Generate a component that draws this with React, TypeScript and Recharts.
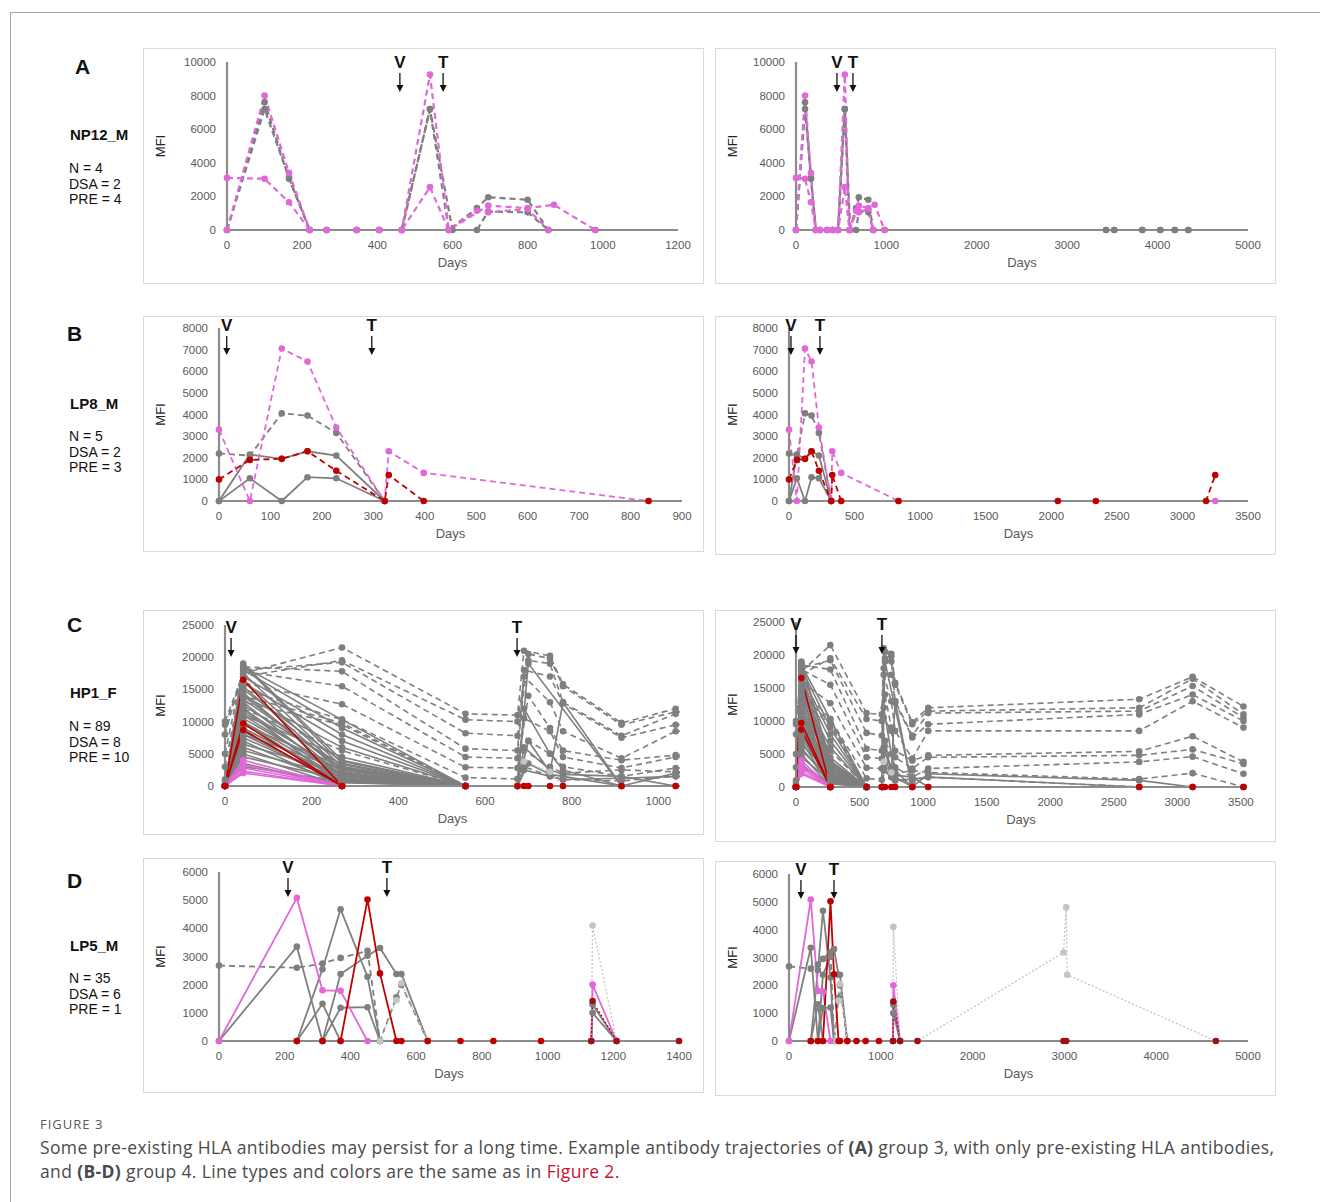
import React from 'react';
import { LineChart, Line, XAxis, YAxis, ReferenceDot } from 'recharts';

const FONT = '"Liberation Sans", Arial, sans-serif';
const GRAY = '#7f7f7f';
const PINK = '#e068d8';
const RED = '#c00000';
const LIGHT = '#c4c4c4';
const AXIS = '#8c8c8c';
const TICK_FILL = '#595959';

type V = number | null;
type Kind = 'gray' | 'grayPre' | 'pink' | 'pinkPre' | 'red' | 'redPre' | 'redDot' | 'light';

// ---- NP12_M (A) ----
const npDays = [0, 100, 165, 220, 265, 345, 405, 465, 540, 590, 600, 665, 695, 800, 855, 870, 980, 3430, 3520, 3830, 4030, 4190, 4340];
const npGray1: V[] = [0, 7600, 3050, 0, 0, 0, 0, 0, 7200, 0, null, 1300, 1950, 1800, 0, null, 0, 0, 0, 0, 0, 0, 0];
const npGray2: V[] = [0, 7200, 3100, 0, 0, 0, 0, 0, 7200, null, 0, 0, 1100, 1050, 0, null, null, 0, 0, 0, 0, 0, 0];
const npPink1: V[] = [0, 8000, 3400, 0, 0, 0, 0, 0, 9250, 0, null, 1150, 1050, 1250, 0];
const npPink2: V[] = [3100, 3050, 1650, 0, 0, 0, 0, 0, 2550, 0, null, null, 1450, 1300, null, 1500, 0];

// ---- LP8_M (B) ----
const lp8Days = [0, 60, 122, 172, 228, 322, 330, 398, 835, 2050, 2340, 3180, 3250];
const lp8GrayPre: V[] = [2200, 2100, 4050, 3950, 3150, 0];
const lp8Gray1: V[] = [0, 2150, 1950, 2300, 2100, 0];
const lp8Gray2: V[] = [0, 1050, 0, 1100, 1050, 0];
const lp8Pink: V[] = [3300, 0, 7050, 6450, 3400, 0, 2300, 1300, 0, null, null, null, 0];
const lp8Red: V[] = [1000, 1900, 1950, 2300, 1400, 0, 1200, 0, 0, 0, 0, 0, 1200];

// ---- HP1_F (C) ----
const hpDays = [0, 42, 270, 555, 675, 690, 700, 750, 780, 915, 1040, 2700, 3120, 3520];
const hpPre1: V[] = [10000, 17500, 21500, 11200, 11000, 21000, null, 20200, 15800, 9800, 12000, 13300, 16700, 12200];
const hpPre2: V[] = [9500, 17000, 19500, 10300, 10000, null, 20500, 19800, 15500, 9500, 11500, 12000, 16400, 11000];
const hpPre3: V[] = [8000, 18000, 19200, 8200, 7800, null, 19500, 19000, 13000, 7800, 11200, 11500, 15300, 10500];
const hpPre4: V[] = [5000, 18500, 17800, 5800, 5500, 18000, null, 17000, 12800, 7500, 9500, 11000, 14000, 10000];
const hpPre5: V[] = [3000, 17800, 15500, 4500, 4300, 17000, null, 13000, 8500, 4300, 8500, 8500, 13000, 9000];
const hpPre6: V[] = [1000, 16000, 12700, 2900, 2800, null, 14000, 9000, 5500, 4000, 4800, 5400, 7700, 3800];
const hpPre7: V[] = [500, 15000, 10300, 1300, 1100, 10500, null, 8500, 4500, 2800, 4500, 4800, 5700, 3500];
const hpPre8: V[] = [0, 14000, 9800, 0, 0, null, 7000, 5000, 3000, 1500, 2800, 3800, 4600, 2000];
const hpPre9: V[] = [0, 13000, 9500, 0, 0, 5500, null, 3000, 2000, 2500, 2200, 1200, 2100, 0];
const hpPre10: V[] = [0, 12000, 5500, 0, 0, 3000, null, 1500, 1000, 800, 1500, 0, 0, 0];
const hpSolid: V[][] = [
  [0, 19000, 4000, 0],
  [0, 18800, 3500, 0],
  [0, 18500, 10300, 0],
  [0, 18000, 9000, 0],
  [0, 17500, 3000, 0],
  [0, 17000, 8000, 0],
  [0, 16500, 2500, 0],
  [0, 16000, 7000, 0],
  [0, 15500, 2000, 0],
  [0, 15000, 3800, 0],
  [0, 14500, 1500, 0],
  [0, 14000, 6000, 0],
  [0, 13500, 2800, 0],
  [0, 13000, 1000, 0],
  [0, 12500, 3300, 0],
  [0, 12000, 0],
  [0, 11500, 2200, 0],
  [0, 11000, 4500, 0],
  [0, 10500, 1800, 0],
  [0, 10000, 0],
  [0, 9500, 3000, 0],
  [0, 9000, 1200, 0],
  [0, 8500, 0],
  [0, 8000, 2600, 0],
  [0, 7500, 800, 0],
  [0, 7000, 0],
  [0, 6500, 2000, 0],
  [0, 6000, 500, 0],
  [0, 5500, 1500, 0],
  [0, 5000, 0],
  [0, 4500, 1000, 0],
  [0, 3500, 0],
  [0, 3000, 700, 0],
  [0, 14000, 2500, 0, 0, null, 19000, null, null, 0],
  [0, 12000, 1800, 0, 0, 12000, null, 5000, 2500, 0],
  [0, 11000, 1500, 0, 0, null, 7000, 2200, 13000, 0],
  [0, 10000, 1200, 0, 0, 6000, null, 2500, 1800, 1500, 0],
  [0, 9000, 900, 0, 0, null, 3500, 1800, 1500, 0, 2000, 1000, 0],
  [0, 8000, 600, 0, 0, 2500, null, 1500, 1000, 1200, 1500, 0],
];
const hpLight: V[] = [null, null, null, null, 0, 3800, null, 2200, 0];
const hpPink: V[][] = [
  [0, 4000, 0],
  [0, 3300, 0],
  [0, 2800, 0],
  [0, 2300, 0],
  [0, 2000, 0],
];
const hpRed1: V[] = [0, 16500, 0, 0, 0, 0, 0, 0, 0, 0, 0, 0, 0, 0];
const hpRed2: V[] = [0, 9700, 0];
const hpRed3: V[] = [0, 8700, 0];

// ---- LP5_M (D) ----
const lp5Days = [0, 237, 315, 370, 452, 490, 540, 555, 635, 735, 835, 980, 1133, 1137, 1210, 1400, 2990, 3020, 3030, 4650];
const lp5GrayPre: V[] = [2680, 2600, 2750, 2950, 3200, 0, 1550, 2000, 0];
const lp5Gray1: V[] = [0, 3350, 0];
const lp5Gray2: V[] = [null, 0, 2550, 4680, 2280, 0];
const lp5Gray3: V[] = [null, 0, 1320, 0];
const lp5Gray4: V[] = [null, null, 0, 2380, 3030, 3300, 2380, 2380, 0];
const lp5Gray5: V[] = [null, null, 0, 1180, 1200, 0];
const lp5Gray6: V[] = [null, null, null, null, null, null, null, null, null, null, null, null, 0, 1300, 0];
const lp5Gray7: V[] = [null, null, null, null, null, null, null, null, null, null, null, null, 0, 1000, 0];
const lp5Light1: V[] = [null, null, null, null, null, 0, 1450, 2050, 0];
const lp5Light2: V[] = [null, null, null, null, null, null, null, null, null, null, null, null, 0, 4100, 0, 0, 3180, 4800, 2380, 0];
const lp5Pink: V[] = [0, 5080, 1800, 1780, 0, null, null, null, null, null, null, null, 0, 2000, 0];
const lp5Red: V[] = [null, 0, 0, 0, 5020, 2400, 0, 0, 0, 0, 0, 0];
const lp5RedDot: V[] = [null, null, null, null, null, null, null, null, null, null, null, null, 0, 1420, 0, 0, 0, 0, null, 0];

// ---- axis ticks ----
const ticksA = [0, 2000, 4000, 6000, 8000, 10000];
const ticksB = [0, 1000, 2000, 3000, 4000, 5000, 6000, 7000, 8000];
const ticksC = [0, 5000, 10000, 15000, 20000, 25000];
const ticksD = [0, 1000, 2000, 3000, 4000, 5000, 6000];
const days1200 = [0, 200, 400, 600, 800, 1000, 1200];
const days900 = [0, 100, 200, 300, 400, 500, 600, 700, 800, 900];
const days1000 = [0, 200, 400, 600, 800, 1000];
const days1400 = [0, 200, 400, 600, 800, 1000, 1200, 1400];
const days3500 = [0, 500, 1000, 1500, 2000, 2500, 3000, 3500];
const days5000 = [0, 1000, 2000, 3000, 4000, 5000];

const STYLE: Record<Kind, { color: string; dash?: string }> = {
  gray: { color: GRAY },
  grayPre: { color: GRAY, dash: '6 4' },
  pink: { color: PINK },
  pinkPre: { color: PINK, dash: '6 4' },
  red: { color: RED },
  redPre: { color: RED, dash: '6 4' },
  redDot: { color: '#a01010', dash: '2 2' },
  light: { color: LIGHT, dash: '2 2' },
};

type S = { kind: Kind; values: V[] };

const npSeries: S[] = [
  { kind: 'grayPre', values: npGray1 },
  { kind: 'grayPre', values: npGray2 },
  { kind: 'pinkPre', values: npPink2 },
  { kind: 'pinkPre', values: npPink1 },
];
const lp8Series: S[] = [
  { kind: 'grayPre', values: lp8GrayPre },
  { kind: 'gray', values: lp8Gray1 },
  { kind: 'gray', values: lp8Gray2 },
  { kind: 'pinkPre', values: lp8Pink },
  { kind: 'redPre', values: lp8Red },
];
const hpSeries: S[] = [
  ...hpSolid.map((v) => ({ kind: 'gray' as Kind, values: v })),
  ...[hpPre1, hpPre2, hpPre3, hpPre4, hpPre5, hpPre6, hpPre7, hpPre8, hpPre9, hpPre10].map((v) => ({ kind: 'grayPre' as Kind, values: v })),
  { kind: 'light', values: hpLight },
  ...hpPink.map((v) => ({ kind: 'pink' as Kind, values: v })),
  { kind: 'red', values: hpRed3 },
  { kind: 'red', values: hpRed2 },
  { kind: 'red', values: hpRed1 },
];
const lp5Series: S[] = [
  { kind: 'grayPre', values: lp5GrayPre },
  { kind: 'gray', values: lp5Gray1 },
  { kind: 'gray', values: lp5Gray2 },
  { kind: 'gray', values: lp5Gray3 },
  { kind: 'gray', values: lp5Gray4 },
  { kind: 'gray', values: lp5Gray5 },
  { kind: 'gray', values: lp5Gray6 },
  { kind: 'gray', values: lp5Gray7 },
  { kind: 'light', values: lp5Light1 },
  { kind: 'light', values: lp5Light2 },
  { kind: 'pink', values: lp5Pink },
  { kind: 'red', values: lp5Red },
  { kind: 'redDot', values: lp5RedDot },
];

type PanelDef = {
  box: [number, number, number, number];
  plot: [number, number, number, number];
  xMax: number;
  xTicks: number[];
  yMax: number;
  yTicks: number[];
  days: number[];
  series: S[];
  marks: [string, number][];
  markDy: number;
  lw: number;
};

const panels: PanelDef[] = [
  { box: [143, 48, 561, 236], plot: [227, 62, 678, 230], xMax: 1200, xTicks: days1200, yMax: 10000, yTicks: ticksA, days: npDays, series: npSeries, marks: [['V', 460], ['T', 575]], markDy: 0, lw: 2.2 },
  { box: [715, 48, 561, 236], plot: [796, 62, 1248, 230], xMax: 5000, xTicks: days5000, yMax: 10000, yTicks: ticksA, days: npDays, series: npSeries, marks: [['V', 453], ['T', 630]], markDy: 0, lw: 2.2 },
  { box: [143, 316, 561, 236], plot: [219, 328, 682, 501], xMax: 900, xTicks: days900, yMax: 8000, yTicks: ticksB, days: lp8Days, series: lp8Series, marks: [['V', 15], ['T', 297]], markDy: -3, lw: 1.8 },
  { box: [715, 316, 561, 239], plot: [789, 328, 1248, 501], xMax: 3500, xTicks: days3500, yMax: 8000, yTicks: ticksB, days: lp8Days, series: lp8Series, marks: [['V', 15], ['T', 236]], markDy: -3, lw: 1.8 },
  { box: [143, 610, 561, 225], plot: [225, 625, 680, 786], xMax: 1050, xTicks: days1000, yMax: 25000, yTicks: ticksC, days: hpDays, series: hpSeries, marks: [['V', 14], ['T', 674]], markDy: 2, lw: 1.6 },
  { box: [715, 610, 561, 232], plot: [796, 622, 1246, 787], xMax: 3540, xTicks: days3500, yMax: 25000, yTicks: ticksC, days: hpDays, series: hpSeries, marks: [['V', 0], ['T', 676]], markDy: 2, lw: 1.6 },
  { box: [143, 858, 561, 235], plot: [219, 872, 679, 1041], xMax: 1400, xTicks: days1400, yMax: 6000, yTicks: ticksD, days: lp5Days, series: lp5Series, marks: [['V', 210], ['T', 511]], markDy: -5, lw: 1.8 },
  { box: [715, 861, 561, 235], plot: [789, 874, 1248, 1041], xMax: 5000, xTicks: days5000, yMax: 6000, yTicks: ticksD, days: lp5Days, series: lp5Series, marks: [['V', 130], ['T', 490]], markDy: -5, lw: 1.8 },
];

const Y_W = 70;
const X_H = 30;
const TICK = { fontSize: 11.5, fill: TICK_FILL, fontFamily: FONT };

function markShape(label: string, dy: number) {
  return (p: any) => {
    const cx = p.cx;
    const y0 = p.cy + dy;
    return (
      <g>
        <text x={cx} y={y0} textAnchor="middle" dominantBaseline="central" fontSize={17} fontWeight="bold" fill="#111" fontFamily={FONT}>
          {label}
        </text>
        <line x1={cx} y1={y0 + 11} x2={cx} y2={y0 + 24} stroke="#111" strokeWidth={1.3} />
        <path d={`M${cx - 3.5},${y0 + 23} L${cx + 3.5},${y0 + 23} L${cx},${y0 + 30} Z`} fill="#111" />
      </g>
    );
  };
}

function Panel({ def }: { def: PanelDef }) {
  const [bx, by, bw, bh] = def.box;
  const [pl, pt, pr, pb] = def.plot;
  const margin = { top: pt - by, right: bx + bw - pr, bottom: by + bh - pb - X_H, left: pl - bx - Y_W };
  const midX = (pl + pr) / 2 - bx;
  const midY = (pt + pb) / 2 - by;
  return (
    <div style={{ position: 'absolute', left: bx, top: by, width: bw, height: bh, outline: '1.5px solid #d9d9d9', outlineOffset: -1, fontFamily: FONT }}>
      <LineChart width={bw} height={bh} margin={margin} style={{ overflow: 'visible' }}>
        <XAxis
          type="number"
          dataKey="day"
          domain={[0, def.xMax]}
          ticks={def.xTicks}
          interval={0}
          allowDataOverflow
          height={X_H}
          axisLine={{ stroke: AXIS, strokeWidth: 2.2 }}
          tickLine={false}
          tickMargin={5}
          tick={TICK}
          label={{
            content: () => (
              <text x={midX} y={pb - by + 32} textAnchor="middle" dominantBaseline="central" fontSize={13} fill={TICK_FILL} fontFamily={FONT}>
                Days
              </text>
            ),
          }}
        />
        <YAxis
          type="number"
          domain={[0, def.yMax]}
          ticks={def.yTicks}
          interval={0}
          width={Y_W}
          axisLine={{ stroke: AXIS, strokeWidth: 2.2 }}
          tickLine={false}
          tickMargin={5}
          tick={TICK}
          label={{
            content: () => (
              <text transform={`translate(17,${midY}) rotate(-90)`} textAnchor="middle" dominantBaseline="central" fontSize={13} fill="#222" fontFamily={FONT}>
                MFI
              </text>
            ),
          }}
        />
        {def.series.map((s, i) => {
          const st = STYLE[s.kind];
          const data = s.values
            .map((v, j) => ({ day: def.days[j], mfi: v }))
            .filter((d) => d.mfi !== null && d.mfi !== undefined);
          return (
            <Line
              key={i}
              data={data}
              dataKey="mfi"
              stroke={st.color}
              strokeWidth={s.kind === 'light' || s.kind === 'redDot' ? 1.3 : def.lw}
              strokeDasharray={st.dash}
              dot={{ r: 3.3, fill: st.color, stroke: 'none', clipDot: false }}
              activeDot={false}
              isAnimationActive={false}
            />
          );
        })}
        {def.marks.map(([label, day]) => (
          <ReferenceDot key={label} x={day} y={def.yMax} r={0} ifOverflow="visible" shape={markShape(label, def.markDy)} />
        ))}
      </LineChart>
    </div>
  );
}

const patients = [
  { letter: 'A', lx: 75, ly: 67, name: 'NP12_M', ny: 135, stats: ['N = 4', 'DSA = 2', 'PRE = 4'], sy: 169 },
  { letter: 'B', lx: 67, ly: 334, name: 'LP8_M', ny: 404, stats: ['N = 5', 'DSA = 2', 'PRE = 3'], sy: 437 },
  { letter: 'C', lx: 67, ly: 625, name: 'HP1_F', ny: 693, stats: ['N = 89', 'DSA = 8', 'PRE = 10'], sy: 727 },
  { letter: 'D', lx: 67, ly: 881, name: 'LP5_M', ny: 946, stats: ['N = 35', 'DSA = 6', 'PRE = 1'], sy: 979 },
];

export default function App() {
  return (
    <div style={{ position: 'absolute', left: 0, top: 0, width: 1320, height: 1202, background: '#fff', overflow: 'hidden', fontFamily: FONT }}>
      <div style={{ position: 'absolute', left: 10, top: 12, width: 1320, height: 1200, borderTop: '1.5px solid #a6a6a6', borderLeft: '1.5px solid #a6a6a6' }} />
      {patients.map((p) => (
        <React.Fragment key={p.letter}>
          <div style={{ position: 'absolute', left: p.lx, top: p.ly - 13, fontSize: 21, lineHeight: '26px', fontWeight: 'bold', color: '#111' }}>{p.letter}</div>
          <div style={{ position: 'absolute', left: 70, top: p.ny - 9, fontSize: 15, lineHeight: '18px', fontWeight: 'bold', color: '#111' }}>{p.name}</div>
          <div style={{ position: 'absolute', left: 69, top: p.sy - 8, fontSize: 14, lineHeight: '15.5px', color: '#111' }}>
            {p.stats.map((s) => (
              <div key={s}>{s}</div>
            ))}
          </div>
        </React.Fragment>
      ))}
      {panels.map((d, i) => (
        <Panel key={i} def={d} />
      ))}
      <div style={{ position: 'absolute', left: 40, top: 1116, fontSize: 13, lineHeight: '16px', color: '#58595b', letterSpacing: 1, fontFamily: '"Open Sans", sans-serif' }}>
        FIGURE 3
      </div>
      <div style={{ position: 'absolute', left: 40, top: 1135, fontSize: 17.5, lineHeight: '24px', letterSpacing: 0.36, color: '#4a4a4a', whiteSpace: 'nowrap', fontFamily: '"Open Sans", sans-serif' }}>
        Some pre-existing HLA antibodies may persist for a long time. Example antibody trajectories of <b>(A)</b> group 3, with only pre-existing HLA antibodies,
        <br />
        and <b>(B-D)</b> group 4. Line types and colors are the same as in <span style={{ color: '#c8102e' }}>Figure 2</span>.
      </div>
    </div>
  );
}
